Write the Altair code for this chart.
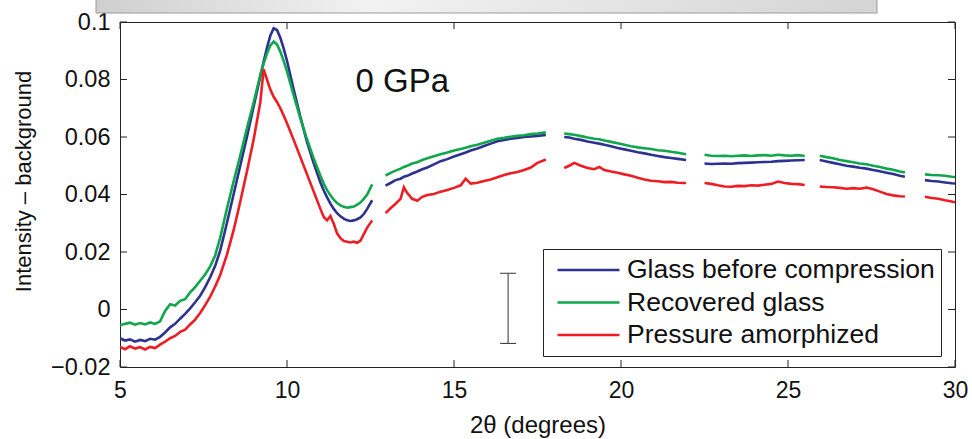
import altair as alt
import pandas as pd

FONT = "Liberation Sans"
INK = "#111111"

SERIES = ["Glass before compression", "Recovered glass", "Pressure amorphized"]
COLORS = ["#2d3190", "#0fa64c", "#ee1d24"]

X_DOMAIN = [5, 30]
Y_DOMAIN = [-0.02, 0.1]
X_TICKS = [5, 10, 15, 20, 25, 30]
Y_TICKS = [-0.02, 0, 0.02, 0.04, 0.06, 0.08, 0.1]

# 2-theta sampling of each measured segment (the detector gaps split the scan)
SEG_X = [
    [5.0, 5.15, 5.3, 5.45, 5.6, 5.75, 5.9, 6.05, 6.2, 6.35,
     6.5, 6.65, 6.8, 6.95, 7.1, 7.25, 7.4, 7.55, 7.7, 7.85,
     8.0, 8.2, 8.4, 8.6, 8.8, 9.0, 9.2,
     9.3, 9.4, 9.5, 9.6, 9.7, 9.8, 9.9, 10.0,
     10.2, 10.4, 10.6, 10.8, 11.0,
     11.1, 11.2, 11.3, 11.4, 11.5, 11.6, 11.7, 11.8, 11.9, 12.0, 12.1, 12.2, 12.3, 12.4,
     12.55],
    [12.95, 13.1, 13.25, 13.4, 13.5, 13.6, 13.75, 13.9, 14.05, 14.2,
     14.4, 14.6, 14.8, 15.0, 15.2, 15.35, 15.5, 15.7, 15.9, 16.1,
     16.3, 16.5, 16.7, 16.9, 17.1, 17.3, 17.5, 17.75],
    [18.3, 18.45, 18.6, 18.8, 19.0, 19.2, 19.35, 19.5, 19.7, 19.9,
     20.1, 20.3, 20.5, 20.7, 20.9, 21.1, 21.3, 21.5, 21.7, 21.95],
    [22.5, 22.7, 22.9, 23.1, 23.3, 23.5, 23.7, 23.9, 24.1, 24.3,
     24.5, 24.7, 24.9, 25.1, 25.3, 25.5],
    [25.95, 26.15, 26.35, 26.55, 26.75, 26.95, 27.15, 27.35, 27.55, 27.75,
     27.95, 28.15, 28.35, 28.5],
    [29.1, 29.3, 29.5, 29.7, 29.9, 30.0],
]

GLASS = [
    [-0.0100, -0.0108, -0.0104, -0.0112, -0.0106, -0.0110, -0.0102, -0.0105, -0.0095, -0.0080,
     -0.0062, -0.0050, -0.0032, -0.0015, 0.0004, 0.0025, 0.0048, 0.0078, 0.0112, 0.0152,
     0.0205, 0.0300, 0.0400, 0.0500, 0.0600, 0.0705, 0.0810,
     0.0862, 0.0910, 0.0952, 0.0978, 0.0972, 0.0945, 0.0908, 0.0865,
     0.0765, 0.0670, 0.0582, 0.0508, 0.0442,
     0.0414, 0.0390, 0.0368, 0.0350, 0.0335, 0.0324, 0.0316, 0.0310, 0.0308, 0.0310, 0.0314, 0.0320, 0.0332, 0.0350,
     0.0380],
    [0.0431, 0.0440, 0.0450, 0.0455, 0.0462, 0.0465, 0.0473, 0.0480, 0.0488, 0.0494,
     0.0505, 0.0516, 0.0523, 0.0532, 0.0540, 0.0546, 0.0553, 0.0560, 0.0569, 0.0577,
     0.0585, 0.0590, 0.0594, 0.0597, 0.0600, 0.0602, 0.0604, 0.0607],
    [0.0600, 0.0598, 0.0594, 0.0590, 0.0584, 0.0580, 0.0577, 0.0573, 0.0568, 0.0562,
     0.0557, 0.0552, 0.0547, 0.0543, 0.0538, 0.0534, 0.0530, 0.0527, 0.0524, 0.0520],
    [0.0508, 0.0506, 0.0507, 0.0508, 0.0507, 0.0509, 0.0510, 0.0511, 0.0512, 0.0513,
     0.0514, 0.0516, 0.0517, 0.0518, 0.0519, 0.0520],
    [0.0520, 0.0515, 0.0510, 0.0505, 0.0500, 0.0497, 0.0493, 0.0490, 0.0485, 0.0481,
     0.0476, 0.0471, 0.0465, 0.0462],
    [0.0450, 0.0447, 0.0445, 0.0442, 0.0439, 0.0438],
]

RECOVERED = [
    [-0.0055, -0.0050, -0.0046, -0.0053, -0.0047, -0.0052, -0.0045, -0.0050, -0.0041, -0.0005,
     0.0018, 0.0014, 0.0030, 0.0036, 0.0060, 0.0078, 0.0100, 0.0122, 0.0150, 0.0188,
     0.0250, 0.0350, 0.0445, 0.0535, 0.0630, 0.0720, 0.0815,
     0.0855, 0.0890, 0.0918, 0.0932, 0.0922, 0.0897, 0.0865, 0.0828,
     0.0745, 0.0665, 0.0592, 0.0525, 0.0465,
     0.0438, 0.0415, 0.0397, 0.0382, 0.0370, 0.0362, 0.0357, 0.0354, 0.0356, 0.0358, 0.0365, 0.0372, 0.0385, 0.0400,
     0.0435],
    [0.0466, 0.0475, 0.0483, 0.0490, 0.0496, 0.0500, 0.0508, 0.0512, 0.0520, 0.0526,
     0.0533, 0.0540, 0.0546, 0.0553, 0.0558, 0.0563, 0.0568, 0.0573, 0.0580, 0.0587,
     0.0594, 0.0597, 0.0601, 0.0604, 0.0606, 0.0610, 0.0612, 0.0616],
    [0.0612, 0.0610, 0.0608, 0.0603, 0.0598, 0.0594, 0.0592, 0.0588, 0.0583, 0.0578,
     0.0573, 0.0568, 0.0564, 0.0561, 0.0558, 0.0554, 0.0552, 0.0549, 0.0545, 0.0540],
    [0.0538, 0.0535, 0.0534, 0.0535, 0.0533, 0.0535, 0.0536, 0.0534, 0.0536, 0.0537,
     0.0535, 0.0538, 0.0536, 0.0535, 0.0537, 0.0534],
    [0.0535, 0.0530, 0.0526, 0.0520, 0.0516, 0.0512, 0.0508, 0.0505, 0.0500, 0.0496,
     0.0490, 0.0486, 0.0480, 0.0477],
    [0.0470, 0.0468, 0.0467, 0.0465, 0.0462, 0.0461],
]

AMORPHIZED = [
    [-0.0130, -0.0138, -0.0128, -0.0136, -0.0131, -0.0139, -0.0130, -0.0134, -0.0122, -0.0112,
     -0.0100, -0.0092, -0.0078, -0.0070, -0.0052, -0.0035, -0.0012, 0.0015, 0.0045, 0.0080,
     0.0120, 0.0190, 0.0275, 0.0375, 0.0480, 0.0590, 0.0720,
     0.0835, 0.0800, 0.0765, 0.0740, 0.0722, 0.0700, 0.0675, 0.0648,
     0.0590, 0.0530, 0.0470, 0.0410, 0.0350,
     0.0322, 0.0310, 0.0325, 0.0298, 0.0265, 0.0248, 0.0238, 0.0236, 0.0233, 0.0236, 0.0232, 0.0240, 0.0262, 0.0285,
     0.0310],
    [0.0335, 0.0352, 0.0368, 0.0385, 0.0425, 0.0405, 0.0385, 0.0378, 0.0392, 0.0398,
     0.0402, 0.0410, 0.0416, 0.0423, 0.0432, 0.0455, 0.0438, 0.0441, 0.0447, 0.0452,
     0.0460, 0.0468, 0.0474, 0.0478, 0.0485, 0.0494, 0.0510, 0.0522],
    [0.0492, 0.0500, 0.0510, 0.0500, 0.0492, 0.0488, 0.0496, 0.0485, 0.0480, 0.0476,
     0.0470, 0.0465, 0.0458, 0.0452, 0.0448, 0.0446, 0.0443, 0.0444, 0.0441, 0.0440],
    [0.0440, 0.0437, 0.0432, 0.0428, 0.0427, 0.0430, 0.0429, 0.0432, 0.0431, 0.0434,
     0.0437, 0.0445, 0.0440, 0.0437, 0.0436, 0.0433],
    [0.0428, 0.0426, 0.0425, 0.0423, 0.0420, 0.0422, 0.0420, 0.0424, 0.0418, 0.0410,
     0.0402, 0.0397, 0.0394, 0.0393],
    [0.0392, 0.0388, 0.0385, 0.0380, 0.0376, 0.0373],
]

# representative error bar and the pressure annotation
ERR_X = 16.62
ERR_LO, ERR_HI = -0.0118, 0.0126
ERR_CAP = 0.24
NOTE_X, NOTE_Y, NOTE_TEXT = 13.45, 0.0790, "0 GPa"

PLOT_W, PLOT_H = 835, 345
TICK_PX = 7

rows = []
for name, segs in zip(SERIES, [GLASS, RECOVERED, AMORPHIZED]):
    for k, (xs, ys) in enumerate(zip(SEG_X, segs)):
        assert len(xs) == len(ys), (name, k)
        for x, y in zip(xs, ys):
            rows.append({"series": name, "seg": f"{name} {k}", "x": x, "y": y})
spectra = pd.DataFrame(rows)

x_scale = alt.Scale(domain=X_DOMAIN, nice=False, zero=False)
y_scale = alt.Scale(domain=Y_DOMAIN, nice=False, zero=False)

X_TITLE = "2θ (degrees)"
Y_TITLE = "Intensity – background"

x_axis = alt.Axis(
    values=X_TICKS, format="d", title=X_TITLE, grid=False, domain=False,
    ticks=False, tickSize=0, labelFlush=False, labelFontSize=23, labelPadding=12,
    titleFontSize=24, titlePadding=11,
)
y_axis = alt.Axis(
    values=Y_TICKS, format="~g", title=Y_TITLE, grid=False,
    domain=False, ticks=False, tickSize=0, labelFlush=False, labelFontSize=23.5,
    labelPadding=10, titleFontSize=22, titleX=-97, titleY=159,
    titleBaseline="middle", titleAlign="center",
)


def X(field):
    return alt.X(field, scale=x_scale, axis=x_axis, title=X_TITLE)


def Y(field):
    return alt.Y(field, scale=y_scale, axis=y_axis, title=Y_TITLE)


lines = alt.Chart(spectra).mark_line(strokeWidth=2.6, clip=True).encode(
    x=X("x:Q"),
    y=Y("y:Q"),
    color=alt.Color(
        "series:N",
        scale=alt.Scale(domain=SERIES, range=COLORS),
        sort=SERIES,
        legend=alt.Legend(
            title=None, orient="none", legendX=423, legendY=227,
            direction="vertical", symbolType="stroke", symbolSize=3844,
            symbolStrokeWidth=2.6, clipHeight=30, rowPadding=2.5, padding=6,
            symbolOffset=7, labelOffset=6, labelFontSize=26.5, labelFont=FONT,
            labelColor=INK, labelLimit=0, strokeColor="#222222", fillColor="white",
        ),
    ),
    detail="seg:N",
)

# inward-pointing ticks on all four sides of the frame
ty = TICK_PX * (Y_DOMAIN[1] - Y_DOMAIN[0]) / PLOT_H
tx = TICK_PX * (X_DOMAIN[1] - X_DOMAIN[0]) / PLOT_W
vt = pd.DataFrame(
    [{"x": v, "y": Y_DOMAIN[0], "y2": Y_DOMAIN[0] + ty} for v in X_TICKS]
    + [{"x": v, "y": Y_DOMAIN[1], "y2": Y_DOMAIN[1] - ty} for v in X_TICKS]
)
ht = pd.DataFrame(
    [{"x": X_DOMAIN[0], "x2": X_DOMAIN[0] + tx, "y": v} for v in Y_TICKS]
    + [{"x": X_DOMAIN[1], "x2": X_DOMAIN[1] - tx, "y": v} for v in Y_TICKS]
)
vticks = alt.Chart(vt).mark_rule(color="#222222", strokeWidth=1).encode(
    x=X("x:Q"), y=Y("y:Q"), y2="y2:Q",
)
hticks = alt.Chart(ht).mark_rule(color="#222222", strokeWidth=1).encode(
    x=X("x:Q"), x2="x2:Q", y=Y("y:Q"),
)

# error bar: vertical stem plus two caps
stem = alt.Chart(pd.DataFrame([{"x": ERR_X, "lo": ERR_LO, "hi": ERR_HI}])).mark_rule(
    color="#444444", strokeWidth=1.1
).encode(x=X("x:Q"), y=Y("lo:Q"), y2="hi:Q")
caps = alt.Chart(pd.DataFrame([
    {"a": ERR_X - ERR_CAP, "b": ERR_X + ERR_CAP, "y": ERR_LO},
    {"a": ERR_X - ERR_CAP, "b": ERR_X + ERR_CAP, "y": ERR_HI},
])).mark_rule(color="#444444", strokeWidth=1.1).encode(
    x=X("a:Q"), x2="b:Q", y=Y("y:Q"),
)

note = alt.Chart(pd.DataFrame([{"x": NOTE_X, "y": NOTE_Y, "t": NOTE_TEXT}])).mark_text(
    font=FONT, fontSize=33, color=INK, align="center", baseline="middle"
).encode(x=X("x:Q"), y=Y("y:Q"), text="t:N")

# strip of the panel above, cut off by the page edge
strip = alt.Chart(pd.DataFrame([{"k": 0}])).mark_rect(
    clip=False,
    fill=alt.Gradient(
        gradient="linear", x1=0, x2=1, y1=0, y2=0,
        stops=[
            alt.GradientStop(offset=0, color="#cfcfcf"),
            alt.GradientStop(offset=0.35, color="#f2f2f2"),
            alt.GradientStop(offset=0.7, color="#e2e2e2"),
            alt.GradientStop(offset=1, color="#d4d4d4"),
        ],
    ),
    stroke="#9a9a9a", strokeWidth=1,
).encode(
    x=alt.value(-24), x2=alt.value(757), y=alt.value(-30), y2=alt.value(-9),
)

chart = (
    alt.layer(lines, strip, vticks, hticks, stem, caps, note)
    .properties(
        width=PLOT_W, height=PLOT_H,
        autosize=alt.AutoSizeParams(type="none"),
        padding={"left": 120, "top": 22, "right": 17, "bottom": 72},
        background="white",
    )
    .configure_view(stroke="#222222", strokeWidth=1)
    .configure_axis(labelFont=FONT, titleFont=FONT, labelColor=INK, titleColor=INK,
                    titleFontWeight="normal")
)

chart.save("out.html", embed_options={"renderer": "svg", "actions": False})
